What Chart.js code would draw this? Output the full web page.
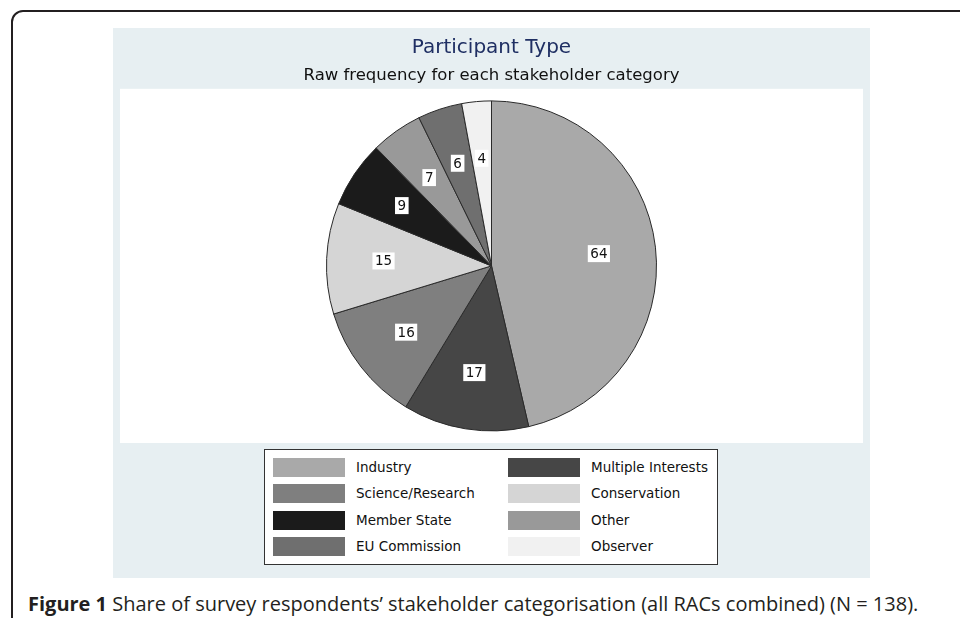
<!DOCTYPE html>
<html>
<head>
<meta charset="utf-8">
<script src="https://cdn.jsdelivr.net/npm/chart.js@4/dist/chart.umd.min.js"></script>
<style>
  html, body { margin: 0; padding: 0; }
  body { width: 960px; height: 618px; overflow: hidden; background: #fff; position: relative; font-family: "DejaVu Sans", sans-serif; }
  #frame { position: absolute; left: 11px; top: 10px; width: 1100px; height: 800px; border: 2px solid #231f20; border-radius: 12px; }
  #panel { position: absolute; left: 113px; top: 28px; width: 757px; height: 550px; background: #e7eff2; }
  #chartBox { position: absolute; left: 0; top: 0; width: 757px; height: 415px; }
  #legend { position: absolute; left: 151px; top: 421px; width: 452px; height: 114px; background: #fff; border: 1px solid #333; }
  .item { position: absolute; height: 19px; }
  .swatch { position: absolute; left: 0; top: 0; width: 72px; height: 19px; }
  .label { position: absolute; left: 83px; top: 0; line-height: 19px; font-size: 13.5px; color: #111; white-space: nowrap; }
  #caption { position: absolute; left: 28px; top: 591px; font-family: "Open Sans", sans-serif; font-size: 20px; color: #231f20; white-space: nowrap; line-height: 26px; }
  #caption b { font-weight: 700; }
</style>
</head>
<body>
<div id="frame"></div>
<div id="panel">
  <div id="chartBox"><canvas id="chart"></canvas></div>
  <div id="legend"></div>
</div>
<div id="caption"><b>Figure 1</b> Share of survey respondents’ stakeholder categorisation (all RACs combined) (N = 138).</div>
<script>
// stakeholder categories, clockwise from 12 o'clock
const categories = ["Industry", "Multiple Interests", "Science/Research", "Conservation",
    "Member State", "Other", "EU Commission", "Observer"];
const counts = [64, 17, 16, 15, 9, 7, 6, 4];
const sliceColors = ["#a9a9a9", "#464646", "#7f7f7f", "#d5d5d5",
    "#1b1b1b", "#999999", "#6f6f6f", "#f1f1f1"];

const FONT = '"DejaVu Sans", sans-serif';

// white plot region behind the pie
const plotBg = {
    id: "plotBg",
    beforeDraw(chart) {
        const { ctx, chartArea: a } = chart;
        ctx.save();
        ctx.fillStyle = "#fff";
        ctx.fillRect(a.left, a.top, a.right - a.left, a.bottom - a.top);
        ctx.restore();
    },
};

// boxed value labels inside each slice
const sliceLabels = {
    id: "sliceLabels",
    afterDatasetsDraw(chart) {
        const ctx = chart.ctx;
        const meta = chart.getDatasetMeta(0);
        ctx.save();
        ctx.font = "13.5px " + FONT;
        ctx.textAlign = "center";
        ctx.textBaseline = "middle";
        meta.data.forEach((arc, i) => {
            const p = arc.getProps(["x", "y", "startAngle", "endAngle", "outerRadius"], true);
            const mid = (p.startAngle + p.endAngle) / 2;
            const r = p.outerRadius * 0.655;
            const x = p.x + Math.cos(mid) * r;
            const y = p.y + Math.sin(mid) * r;
            const text = String(chart.data.datasets[0].data[i]);
            const w = ctx.measureText(text).width + 5;
            const h = 17;
            ctx.fillStyle = "#fff";
            ctx.fillRect(x - w / 2, y - h / 2, w, h);
            ctx.fillStyle = "#111";
            ctx.fillText(text, x, y + 1);
        });
        ctx.restore();
    },
};

const config = {
    type: "pie",
    data: {
        labels: categories,
        datasets: [{
            data: counts,
            backgroundColor: sliceColors,
            borderColor: "#2a2a2a",
            borderWidth: 1,
            radius: 165,
        }],
    },
    options: {
        responsive: true,
        maintainAspectRatio: false,
        animation: false,
        layout: { padding: { left: 7, right: 7, top: 0, bottom: 0 } },
        plugins: {
            legend: { display: false },
            tooltip: { enabled: false },
            title: {
                display: true,
                text: "Participant Type",
                color: "#1f2f63",
                font: { family: FONT, size: 20, weight: "normal" },
                padding: { top: 8, bottom: 0 },
            },
            subtitle: {
                display: true,
                text: "Raw frequency for each stakeholder category",
                color: "#111",
                font: { family: FONT, size: 16.5, weight: "normal" },
                padding: { top: 6, bottom: 3 },
            },
        },
    },
    plugins: [plotBg, sliceLabels],
};

new Chart(document.getElementById("chart"), config);

// two-column legend, row by row in data order
const legend = document.getElementById("legend");
categories.forEach((name, i) => {
    const row = Math.floor(i / 2), col = i % 2;
    const item = document.createElement("div");
    item.className = "item";
    item.style.left = (8 + col * 235) + "px";
    item.style.top = (8 + row * 26.4) + "px";
    item.innerHTML = '<div class="swatch" style="background:' + sliceColors[i] + '"></div>' +
        '<div class="label">' + name + "</div>";
    legend.appendChild(item);
});
</script>
</body>
</html>
